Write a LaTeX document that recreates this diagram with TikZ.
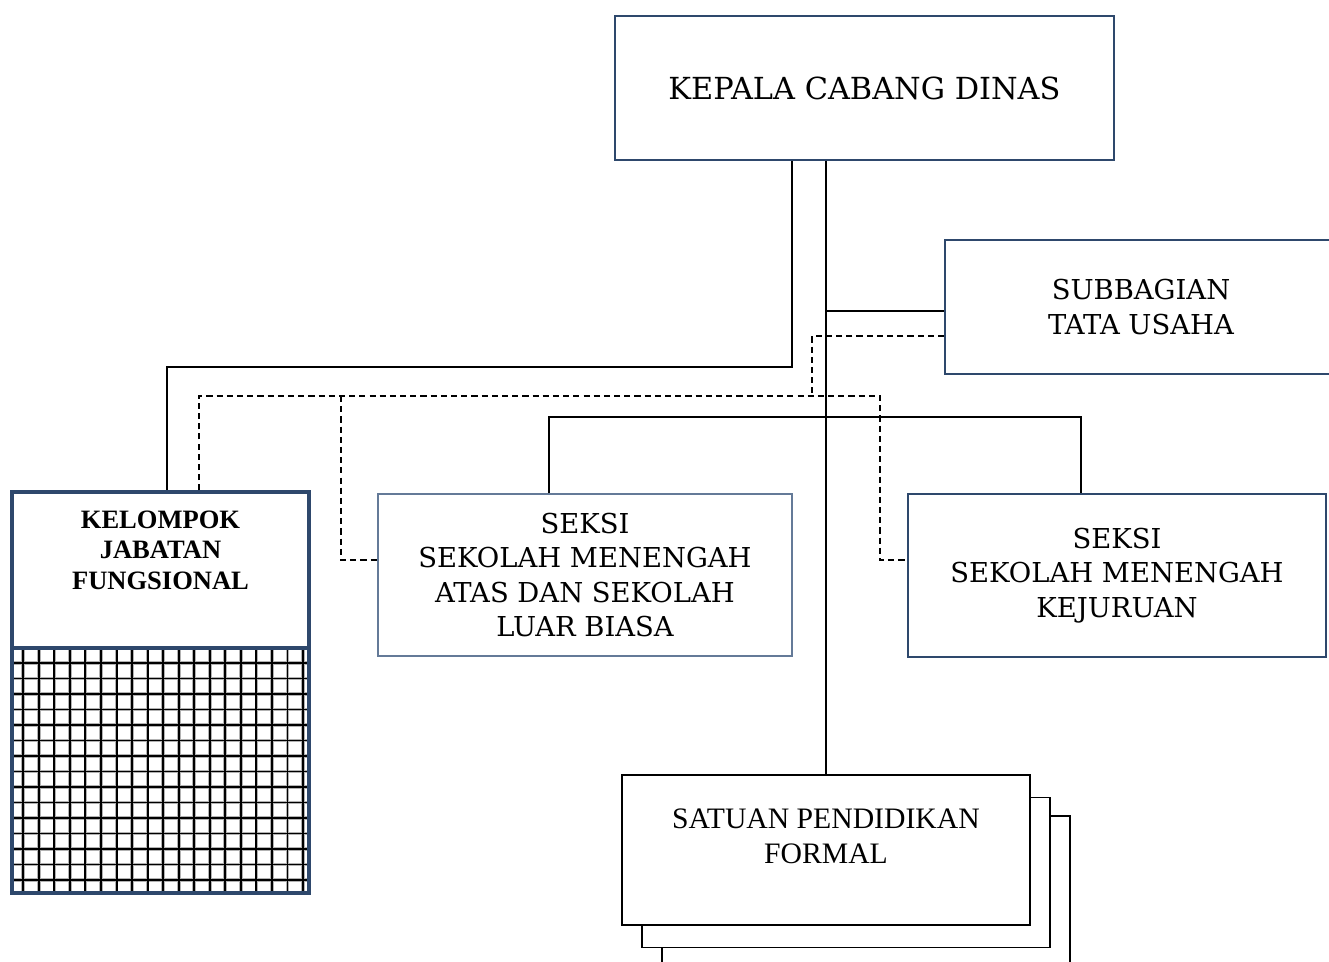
\documentclass[tikz,border=0pt]{standalone}
\usepackage{fontspec}
\setmainfont{Liberation Serif}
\newfontfamily\schoolfont{DejaVu Serif}
\usetikzlibrary{positioning}
\definecolor{box_blue}{RGB}{46,72,108}
\definecolor{box_grey}{RGB}{100,122,152}

\begin{document}
\begin{tikzpicture}[x=0.02cm, y=-0.02cm,
        head_box/.style={rectangle, draw=box_blue, line width=1.1pt, fill=white, align=center, inner sep=0pt, font=\schoolfont\fontsize{17.3}{19.5}\selectfont},
        unit_box/.style={rectangle, draw=box_blue, line width=1.1pt, fill=white, align=center, inner sep=0pt, font=\schoolfont\fontsize{15.6}{19.5}\selectfont},
        unit_box_light/.style={unit_box, draw=box_grey, line width=0.8pt},
        school_box/.style={rectangle, draw=black, line width=1.1pt, fill=white, inner sep=0pt, minimum width=8.16cm, minimum height=3cm},
        fungsi_box/.style={rectangle, draw=box_blue, line width=1.8pt, inner sep=0pt, minimum width=5.94cm},
        fungsi_text/.style={align=center, font=\bfseries\fontsize{15.1}{17.3}\selectfont},
        school_text/.style={align=center, font=\fontsize{16.9}{19.8}\selectfont},
        link/.style={black, line width=1.1pt},
        dash_link/.style={black, line width=1pt, dash pattern=on 3.5pt off 2.3pt},
        grid_shade/.style={black!30, line width=2.1pt},
        grid_line/.style={black, line width=1.1pt}
        ]
            \useasboundingbox (0,0) rectangle (1329,962);
            \clip (0,0) rectangle (1329,962);

            % head
            \node[head_box, minimum width=9.98cm, minimum height=2.88cm] (kepala)    at (864.5,88)  {KEPALA CABANG DINAS};
            \node[unit_box, minimum width=7.84cm, minimum height=2.68cm] (subbagian) at (1141,307)  {SUBBAGIAN\\TATA USAHA};
            % seksi
            \node[unit_box_light, minimum width=8.28cm, minimum height=3.24cm] (seksi_sma) at (585,575)    {SEKSI\\SEKOLAH MENENGAH\\ATAS DAN SEKOLAH\\LUAR BIASA};
            \node[unit_box, minimum width=8.36cm, minimum height=3.26cm]       (seksi_smk) at (1117,575.5) {SEKSI\\SEKOLAH MENENGAH\\KEJURUAN};
            % satuan pendidikan (stacked)
            \node[school_box] (satuan_3) at (866,891)    {};
            \node[school_box] (satuan_2) at (846,872.5)  {};
            \node[school_box] (satuan)   at (826,850)    {};
            \node[school_text] (satuan_text) at (826,836.5) {SATUAN PENDIDIKAN\\FORMAL};
            % kelompok jabatan fungsional
            \foreach \k in {0,...,18}
                \draw[grid_shade] (23.3+15.54*\k,648) -- ++(0,245);
            \foreach \k in {0,...,14}
                \draw[grid_shade] (12,663+15.5*\k) -- ++(297,0);
            \foreach \k in {0,...,18}
                \draw[grid_line] (23.3+15.54*\k,648) -- ++(0,245);
            \foreach \k in {0,...,14}
                \draw[grid_line] (12,663+15.5*\k) -- ++(297,0);
            \node[fungsi_box, minimum height=4.9cm, fill=none] (kelompok_grid) at (160.5,770.5) {};
            \node[fungsi_box, minimum height=3.12cm, fill=white] (kelompok) at (160.5,570) {};
            \node[fungsi_text] (kelompok_text) at (160.5,550) {KELOMPOK\\JABATAN\\FUNGSIONAL};

            % coordinates
            \coordinate (fung_bend)  at (792,367);
            \coordinate (seksi_bar)  at (826,417);
            \coordinate (dash_hub)   at (812,396);
            \coordinate (dash_right) at (880,396);
            \coordinate (dash_mid)   at (341,396);

            % solid lines
            \draw[link] (kepala.south -| satuan.north) -- (satuan.north);
            \draw[link] (kepala.south -| fung_bend) -- (fung_bend) -| ([xshift=0.13cm]kelompok.north);
            \draw[link] (subbagian.west |- 0,311) -- (satuan.north |- 0,311);
            \draw[link] ([xshift=-0.72cm]seksi_sma.north) |- (seksi_bar) -| ([xshift=-0.72cm]seksi_smk.north);
            % dashed lines
            \draw[dash_link] (subbagian.west |- 0,336) -| (dash_hub);
            \draw[dash_link] ([xshift=0.77cm]kelompok.north) |- (dash_right) |- (seksi_smk.west |- 0,560);
            \draw[dash_link] (dash_mid) |- (seksi_sma.west |- 0,560);
        \end{tikzpicture}
\end{document}
